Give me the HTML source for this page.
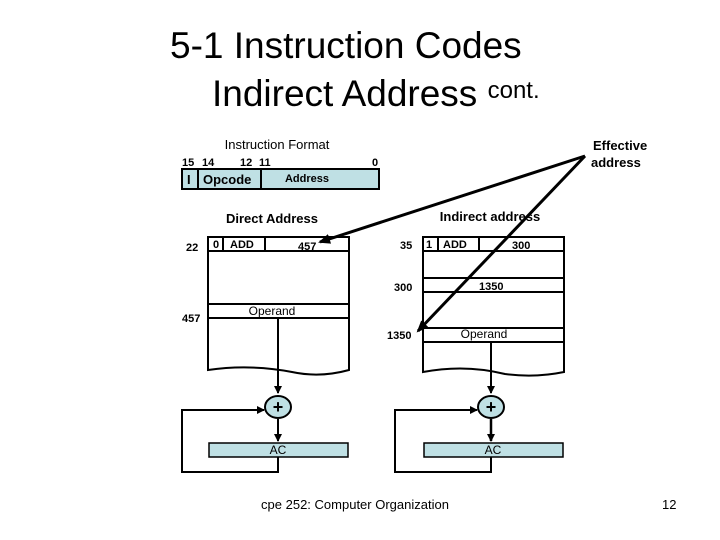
<!DOCTYPE html>
<html><head><style>
body{margin:0;background:#fff;}
svg{display:block;font-family:"Liberation Sans",sans-serif;}
</style></head><body>
<svg width="720" height="540" viewBox="0 0 720 540" xmlns="http://www.w3.org/2000/svg">
<defs>
<marker id="ah" markerWidth="8" markerHeight="8" refX="7" refY="4" orient="auto" markerUnits="userSpaceOnUse"><path d="M0,0 L8,4 L0,8 z" fill="#000"/></marker>
<marker id="ab" markerWidth="12" markerHeight="10" refX="10" refY="5" orient="auto" markerUnits="userSpaceOnUse"><path d="M0,0 L12,5 L0,10 z" fill="#000"/></marker>
</defs>
<text x="170" y="58" font-size="37">5-1 Instruction Codes</text>
<text x="212" y="106" font-size="37">Indirect Address <tspan font-size="24" dy="-8">cont.</tspan></text>

<!-- Instruction format -->
<text x="277" y="149" font-size="13" text-anchor="middle">Instruction Format</text>
<g font-size="11" font-weight="bold">
<text x="182" y="166">15</text><text x="202" y="166">14</text><text x="240" y="166">12</text><text x="259" y="166">11</text><text x="372" y="166">0</text>
</g>
<rect x="182" y="169" width="197" height="20" fill="#bfe0e4" stroke="#000" stroke-width="2"/>
<line x1="198" y1="169" x2="198" y2="189" stroke="#000" stroke-width="2"/>
<line x1="261" y1="169" x2="261" y2="189" stroke="#000" stroke-width="2"/>
<text x="187" y="184" font-size="13" font-weight="bold">I</text>
<text x="203" y="184" font-size="13" font-weight="bold">Opcode</text>
<text x="307" y="182" font-size="11" font-weight="bold" text-anchor="middle">Address</text>

<text x="593" y="150" font-size="13" font-weight="bold">Effective</text>
<text x="591" y="167" font-size="13" font-weight="bold">address</text>

<!-- Direct -->
<text x="272" y="223" font-size="13" font-weight="bold" text-anchor="middle">Direct Address</text>
<g stroke="#000" stroke-width="2" fill="none">
<path d="M208,237 H349 V370 Q320,378 292,372 Q250,364 208,370 Z" fill="#fff"/>
<line x1="208" y1="251" x2="349" y2="251"/>
<line x1="223" y1="237" x2="223" y2="251"/>
<line x1="265" y1="237" x2="265" y2="251"/>
<line x1="208" y1="304" x2="349" y2="304"/>
<line x1="208" y1="318" x2="349" y2="318"/>
<line x1="278" y1="318" x2="278" y2="393" marker-end="url(#ah)"/>
<line x1="278" y1="419" x2="278" y2="441" marker-end="url(#ah)"/>
<polyline points="278,457 278,472 182,472 182,410 264,410" marker-end="url(#ah)"/>
</g>
<ellipse cx="278" cy="407" rx="13" ry="11" fill="#bfe0e4" stroke="#000" stroke-width="2"/>
<text x="278" y="413" font-size="18" font-weight="bold" text-anchor="middle">+</text>
<rect x="209" y="443" width="139" height="14" fill="#bfe0e4" stroke="#000" stroke-width="1.5"/>
<text x="278" y="454" font-size="12" text-anchor="middle">AC</text>
<g font-size="11" font-weight="bold">
<text x="186" y="251">22</text>
<text x="182" y="322">457</text>
<text x="213" y="248">0</text><text x="230" y="248">ADD</text>
<text x="298" y="250">457</text>
</g>
<text x="272" y="315" font-size="12" text-anchor="middle">Operand</text>

<!-- Indirect -->
<text x="490" y="221" font-size="13" font-weight="bold" text-anchor="middle">Indirect address</text>
<g stroke="#000" stroke-width="2" fill="none">
<path d="M423,237 H564 V372 Q535,378 505,374 Q465,364 423,372 Z" fill="#fff"/>
<line x1="423" y1="251" x2="564" y2="251"/>
<line x1="438" y1="237" x2="438" y2="251"/>
<line x1="479" y1="237" x2="479" y2="251"/>
<line x1="423" y1="278" x2="564" y2="278"/>
<line x1="423" y1="292" x2="564" y2="292"/>
<line x1="423" y1="328" x2="564" y2="328"/>
<line x1="423" y1="342" x2="564" y2="342"/>
<line x1="491" y1="342" x2="491" y2="393" marker-end="url(#ah)"/>
<line x1="491" y1="419" x2="491" y2="441" stroke-width="2.5" marker-end="url(#ah)"/>
<polyline points="491,457 491,472 395,472 395,410 477,410" marker-end="url(#ah)"/>
</g>
<ellipse cx="491" cy="407" rx="13" ry="11" fill="#bfe0e4" stroke="#000" stroke-width="2"/>
<text x="491" y="413" font-size="18" font-weight="bold" text-anchor="middle">+</text>
<rect x="424" y="443" width="139" height="14" fill="#bfe0e4" stroke="#000" stroke-width="1.5"/>
<text x="493" y="454" font-size="12" text-anchor="middle">AC</text>
<g font-size="11" font-weight="bold">
<text x="400" y="249">35</text>
<text x="426" y="248">1</text><text x="443" y="248">ADD</text>
<text x="512" y="249">300</text>
<text x="394" y="291">300</text>
<text x="479" y="290">1350</text>
<text x="387" y="339">1350</text>
</g>
<text x="484" y="338" font-size="12" text-anchor="middle">Operand</text>

<!-- arrows -->
<g stroke="#000" stroke-width="3">
<line x1="585" y1="156" x2="320" y2="242" marker-end="url(#ab)"/>
<line x1="585" y1="156" x2="418" y2="331" marker-end="url(#ab)"/>
</g>

<text x="355" y="509" font-size="13" text-anchor="middle">cpe 252: Computer Organization</text>
<text x="662" y="509" font-size="13">12</text>
</svg>
</body></html>
